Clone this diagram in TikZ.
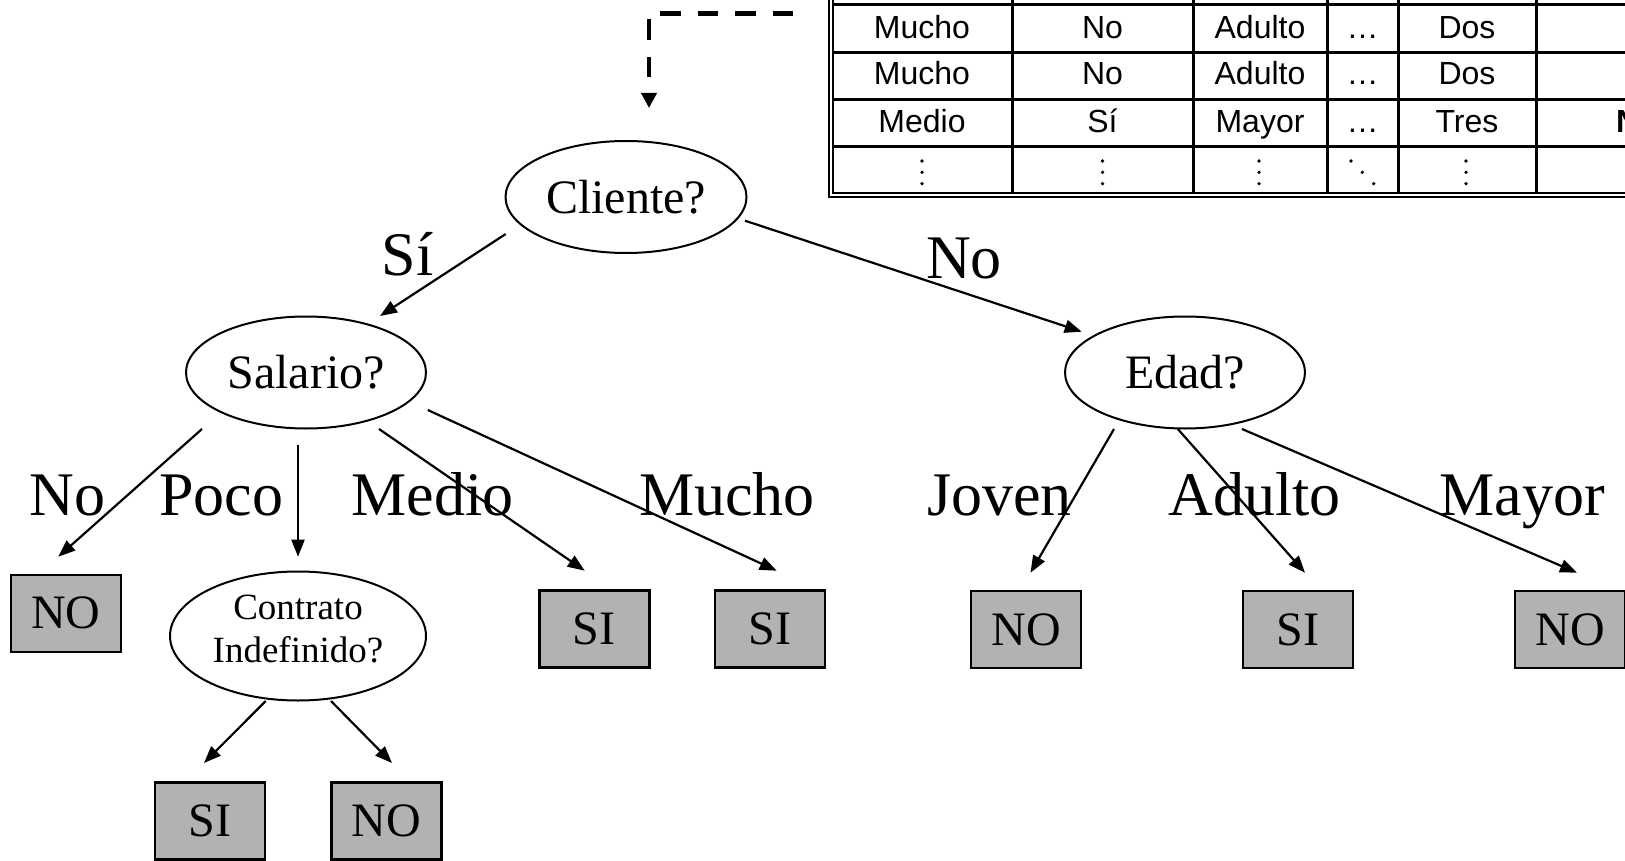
\documentclass[tikz,border=0pt]{standalone}
\usepackage{fontspec}
\setmainfont{Liberation Serif}
\newfontfamily\tablefont{Liberation Sans}
\usetikzlibrary{arrows.meta,shapes.geometric}
\definecolor{leafgray}{RGB}{178,178,178}

\begin{document}
\begin{tikzpicture}[x=1pt,y=-1pt,
  question/.style={draw, line width=2pt, ellipse, inner sep=0pt,
    minimum width=240pt, minimum height=112pt, font=\fontsize{48}{56}\selectfont},
  leaf/.style={draw, line width=2.6pt, fill=leafgray, rectangle, inner sep=0pt,
    minimum width=110pt, minimum height=77pt, font=\fontsize{48}{56}\selectfont},
  branch/.style={font=\fontsize{62}{70}\selectfont, anchor=base, inner sep=0pt},
  edge/.style={line width=2.2pt, -{Triangle[length=17pt,width=13pt]}},
  link/.style={line width=4.5pt, dash pattern=on 20.5pt off 17pt,
    -{Triangle[length=15pt,width=15pt]}},
  cell/.style={font=\tablefont\fontsize{32}{38}\selectfont, anchor=base, inner sep=0pt},
  boldcell/.style={cell, font=\tablefont\bfseries\fontsize{32}{38}\selectfont},
  rule/.style={line width=3pt},
  frame/.style={line width=2pt},
  dotmark/.style={fill=black}
]
\useasboundingbox (0,0) rectangle (1625,861);

% ---------------- data table (top right) ----------------
\draw[frame] (828.5,-5) -- (828.5,197.5) -- (1700,197.5);
\draw[frame] (832.5,-5) -- (832.5,193) -- (1700,193);
\foreach \yy in {5,53,100,147}
  \draw[rule] (832.5,\yy) -- (1700,\yy);
\foreach \xx in {1012,1193,1327,1398,1536}
  \draw[rule] (\xx,-5) -- (\xx,193);

% row 1
\node[cell] (r1c1) at (922,38.3) {Mucho};
\node[cell] (r1c2) at (1102.5,38.3) {No};
\node[cell] (r1c3) at (1260,38.3) {Adulto};
\node[cell] (r1c4) at (1362.5,38.3) {…};
\node[cell] (r1c5) at (1467,38.3) {Dos};
% row 2
\node[cell] (r2c1) at (922,85) {Mucho};
\node[cell] (r2c2) at (1102.5,85) {No};
\node[cell] (r2c3) at (1260,85) {Adulto};
\node[cell] (r2c4) at (1362.5,85) {…};
\node[cell] (r2c5) at (1467,85) {Dos};
% row 3
\node[cell] (r3c1) at (922,132.7) {Medio};
\node[cell] (r3c2) at (1102.5,132.7) {Sí};
\node[cell] (r3c3) at (1260,132.7) {Mayor};
\node[cell] (r3c4) at (1362.5,132.7) {…};
\node[cell] (r3c5) at (1467,132.7) {Tres};
\node[boldcell] (r3c6) at (1640,132.7) {NO};
% row 4: continuation dots
\foreach \xx in {922,1102.5,1259,1466}
  \foreach \yy in {161,172.3,183.7}
    \fill[dotmark] (\xx,\yy) circle (1.8pt);
\fill[dotmark] (1351,161) circle (1.8pt);
\fill[dotmark] (1362.3,172.3) circle (1.8pt);
\fill[dotmark] (1373.7,183.7) circle (1.8pt);

% ---------------- decision tree ----------------
\node[question, minimum width=241pt] (cliente) at (626,197) {Cliente?};
\node[question] (salario) at (306,372.5) {Salario?};
\node[question] (edad) at (1185,372.5) {Edad?};
\node[question, minimum width=256pt, minimum height=129pt] (contrato) at (298,636) {};
\node[font=\fontsize{37}{43}\selectfont, align=center, inner sep=0pt]
  (contratotxt) at (298,629) {Contrato\\Indefinido?};

\node[leaf] (noA) at (66,613.3) {NO};
\node[leaf] (siC) at (210,821) {SI};
\node[leaf] (noC) at (386.3,821) {NO};
\node[leaf] (siMedio) at (594.3,629) {SI};
\node[leaf] (siMucho) at (770,629) {SI};
\node[leaf] (noJoven) at (1026,629.5) {NO};
\node[leaf] (siAdulto) at (1298,629.5) {SI};
\node[leaf] (noMayor) at (1570,629.5) {NO};

% dashed link from the table to the root
\coordinate (tablelink) at (793,13.3);
\draw[link] (tablelink) -| ([shift={(23,-89)}]cliente.center);

% branches
\draw[edge] ([shift={(-120.3,37)}]cliente.center) -- ([shift={(74,-56.5)}]salario.center);
\draw[edge] ([shift={(119,23.7)}]cliente.center) -- ([shift={(-103.3,-40.8)}]edad.center);

\draw[edge] ([shift={(-104,56.5)}]salario.center) -- ([shift={(-7.7,-56.6)}]noA.center);
\draw[edge] ([shift={(-8,72.5)}]salario.center) -- ([shift={(0,-79.3)}]contrato.center);
\draw[edge] ([shift={(73,56.5)}]salario.center) -- ([shift={(-9.6,-58.3)}]siMedio.center);
\draw[edge] ([shift={(121.8,37.5)}]salario.center) -- ([shift={(6.7,-58.3)}]siMucho.center);

\draw[edge] ([shift={(-32.3,65)}]contrato.center) -- ([shift={(-6,-58)}]siC.center);
\draw[edge] ([shift={(33,65)}]contrato.center) -- ([shift={(5.7,-58)}]noC.center);

\draw[edge] ([shift={(-71,56.5)}]edad.center) -- ([shift={(4.5,-56.8)}]noJoven.center);
\draw[edge] ([shift={(-7.2,56.5)}]edad.center) -- ([shift={(7,-56.8)}]siAdulto.center);
\draw[edge] ([shift={(57,56.5)}]edad.center) -- ([shift={(7,-56.8)}]noMayor.center);

% branch labels
\node[branch] (lsi) at (407.5,275) {Sí};
\node[branch] (lno) at (964,278.5) {No};
\node[branch] (lno2) at (67.5,515) {No};
\node[branch] (lpoco) at (221,515) {Poco};
\node[branch] (lmedio) at (432.5,515) {Medio};
\node[branch] (lmucho) at (727,515) {Mucho};
\node[branch] (ljoven) at (999.5,515) {Joven};
\node[branch] (ladulto) at (1254.5,515) {Adulto};
\node[branch] (lmayor) at (1522,515) {Mayor};
\end{tikzpicture}
\end{document}
